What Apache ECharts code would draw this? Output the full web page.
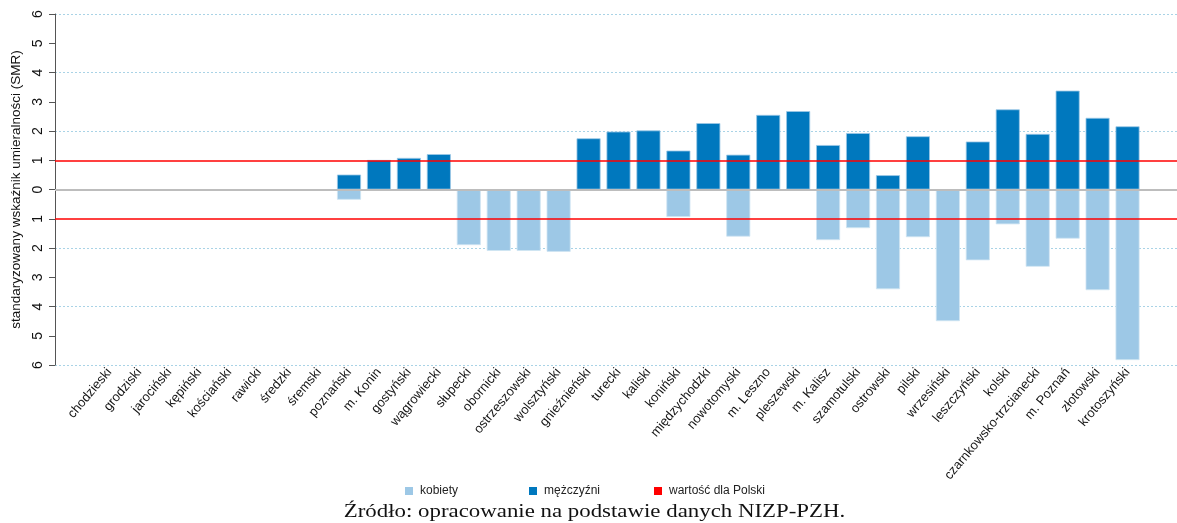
<!DOCTYPE html>
<html>
<head>
<meta charset="utf-8">
<script src="https://cdn.jsdelivr.net/npm/echarts@6/dist/echarts.min.js"></script>
<style>
  html, body { margin: 0; padding: 0; background: #fff; }
  #chart { width: 1177px; height: 523px; }
</style>
</head>
<body>
<div id="chart"></div>
<script>
// Powiaty (counties) in display order
const powiaty = [
  'chodzieski', 'grodziski', 'jarociński', 'kępiński', 'kościański', 'rawicki',
  'średzki', 'śremski', 'poznański', 'm. Konin', 'gostyński', 'wągrowiecki',
  'słupecki', 'obornicki', 'ostrzeszowski', 'wolsztyński', 'gnieźnieński',
  'turecki', 'kaliski', 'koniński', 'międzychodzki', 'nowotomyski', 'm. Leszno',
  'pleszewski', 'm. Kalisz', 'szamotulski', 'ostrowski', 'pilski', 'wrzesiński',
  'leszczyński', 'kolski', 'czarnkowsko-trzcianecki', 'm. Poznań', 'złotowski',
  'krotoszyński'
];

// SMR for men (drawn upward); null where not significant
const mezczyzni = [
  null, null, null, null, null, null, null, null, 0.51, 1.01, 1.08, 1.21,
  null, null, null, null, 1.75, 1.98, 2.02, 1.33, 2.27, 1.19, 2.55,
  2.68, 1.52, 1.93, 0.49, 1.82, null, 1.64, 2.74, 1.90, 3.38, 2.45, 2.16
];

// SMR for women (drawn downward, stored as negative)
const kobiety = [
  null, null, null, null, null, null, null, null, -0.35, null, null, null,
  -1.90, -2.10, -2.10, -2.13, null, null, null, -0.94, null, -1.61, null,
  null, -1.73, -1.32, -3.41, -1.63, -4.50, -2.42, -1.19, -2.64, -1.68, -3.44, -5.83
];

// Reference value for Poland, shown on both sides
const wartoscPolski = [1, -1];

const yTicks = { min: -6, max: 6, step: 1 };

const chart = echarts.init(document.getElementById('chart'), null, { renderer: 'canvas' });

const font = 'Liberation Sans, Arial, sans-serif';
const plotTop = 14, plotBottom = 158;

const legendBase = {
  icon: 'rect', itemWidth: 8, itemHeight: 8, itemGap: 0, top: 480,
  itemStyle: { borderWidth: 0 },
  textStyle: { fontFamily: font, fontSize: 12, color: '#222', padding: [0, 0, 0, 2] },
  selectedMode: false
};

const option = {
  backgroundColor: '#ffffff',
  animation: false,
  textStyle: { fontFamily: font },
  grid: [
    { left: 55, right: 0, top: plotTop, bottom: plotBottom },
    { left: 94.5, right: 34.5, top: plotTop, bottom: plotBottom }
  ],
  legend: [
    Object.assign({ data: ['kobiety'], left: 400 }, legendBase),
    Object.assign({ data: ['mężczyźni'], left: 524 }, legendBase),
    Object.assign({ data: ['wartość dla Polski'], left: 649 }, legendBase)
  ],
  xAxis: [
    { gridIndex: 0, type: 'value', min: 0, max: 1, show: false },
    {
      gridIndex: 1, type: 'category', data: powiaty,
      axisLine: { show: false }, axisTick: { show: false },
      axisLabel: {
        interval: 0, rotate: 50, margin: 5, fontSize: 13, color: '#111',
        fontFamily: font
      }
    }
  ],
  yAxis: [
    {
      gridIndex: 0, type: 'value', min: yTicks.min, max: yTicks.max, interval: yTicks.step,
      name: 'standaryzowany wskaźnik umieralności (SMR)',
      nameLocation: 'middle', nameRotate: 90, nameGap: 30,
      nameTextStyle: { fontSize: 13.5, color: '#111', fontFamily: font },
      axisLine: { show: true, lineStyle: { color: '#555', width: 1 } },
      axisTick: { show: true, length: 6, lineStyle: { color: '#555' } },
      axisLabel: {
        rotate: 90, margin: 10, fontSize: 14, color: '#111', fontFamily: font,
        formatter: v => String(Math.abs(v))
      },
      splitLine: { show: false }
    },
    {
      gridIndex: 0, type: 'value', min: -6, max: 6, interval: 2, position: 'left',
      axisLine: { show: false }, axisTick: { show: false }, axisLabel: { show: false },
      splitLine: { show: true, lineStyle: { color: '#a9d3e6', type: [2, 2], width: 1 } }
    },
    { gridIndex: 1, type: 'value', min: yTicks.min, max: yTicks.max, show: false }
  ],
  series: [
    {
      name: 'kobiety', type: 'bar', xAxisIndex: 1, yAxisIndex: 2,
      data: kobiety, barWidth: 24, barGap: '-100%',
      itemStyle: { color: '#9dc8e6', borderColor: '#cfe4f3', borderWidth: 0.8 },
      z: 2
    },
    {
      name: 'mężczyźni', type: 'bar', xAxisIndex: 1, yAxisIndex: 2,
      data: mezczyzni, barWidth: 24, barGap: '-100%',
      itemStyle: { color: '#0078be', borderColor: '#9cc8e6', borderWidth: 0.8 },
      z: 2
    },
    {
      name: 'wartość dla Polski', type: 'line', xAxisIndex: 0, yAxisIndex: 0,
      data: [], color: '#ff0000', z: 5,
      markLine: {
        silent: true, symbol: 'none', label: { show: false },
        lineStyle: { color: '#ff0000', width: 1.6, type: 'solid' },
        data: wartoscPolski.map(v => ({ yAxis: v }))
      }
    },
    {
      name: 'zero', type: 'line', xAxisIndex: 0, yAxisIndex: 0, data: [], z: 4,
      markLine: {
        silent: true, symbol: 'none', label: { show: false },
        lineStyle: { color: '#bdbdbd', width: 1.8, type: 'solid' },
        data: [{ yAxis: 0 }]
      }
    }
  ],
  graphic: [
    {
      type: 'text', x: 594.5, y: 512, scaleX: 1.27, scaleY: 1,
      style: {
        text: 'Źródło: opracowanie na podstawie danych NIZP-PZH.',
        font: '18px "Liberation Serif", "DejaVu Serif", serif',
        fill: '#111', textAlign: 'center', textVerticalAlign: 'middle'
      }
    }
  ]
};

chart.setOption(option);
</script>
</body>
</html>
